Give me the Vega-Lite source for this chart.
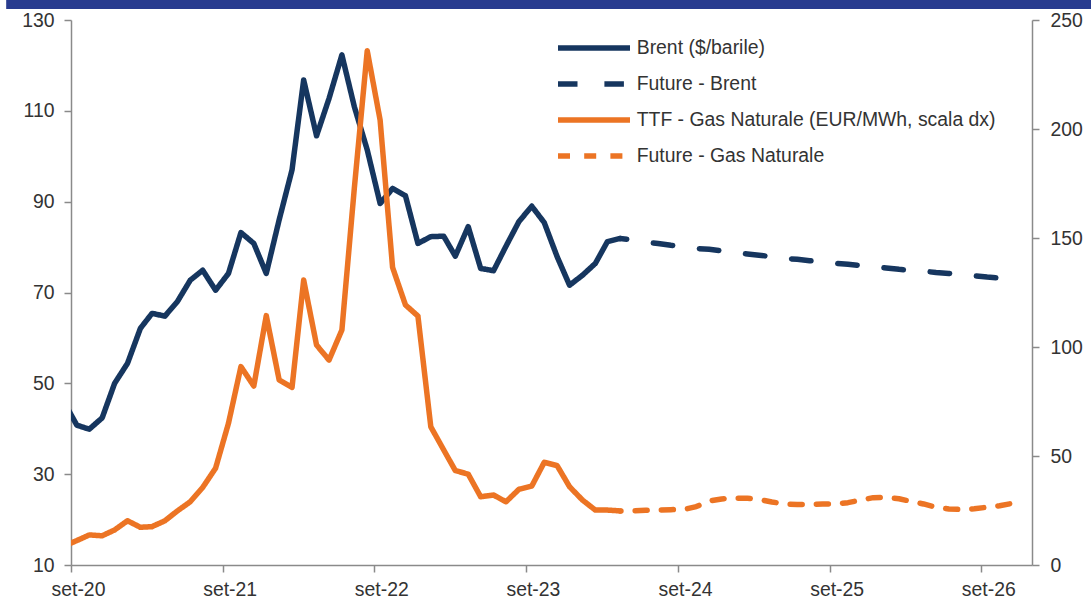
{
  "$schema": "https://vega.github.io/schema/vega-lite/v6.json",
  "width": 961,
  "height": 545,
  "autosize": "none",
  "padding": {"left": 71, "top": 20, "right": 59, "bottom": 49},
  "background": "white",
  "datasets": {
    "brent": [
      {"d": "2020-08-15", "s": "Brent ($/barile)", "v": 45.9},
      {"d": "2020-09-15", "s": "Brent ($/barile)", "v": 40.8},
      {"d": "2020-10-15", "s": "Brent ($/barile)", "v": 39.9},
      {"d": "2020-11-15", "s": "Brent ($/barile)", "v": 42.4},
      {"d": "2020-12-15", "s": "Brent ($/barile)", "v": 50.0},
      {"d": "2021-01-15", "s": "Brent ($/barile)", "v": 54.4},
      {"d": "2021-02-15", "s": "Brent ($/barile)", "v": 62.1},
      {"d": "2021-03-15", "s": "Brent ($/barile)", "v": 65.4},
      {"d": "2021-04-15", "s": "Brent ($/barile)", "v": 64.8},
      {"d": "2021-05-15", "s": "Brent ($/barile)", "v": 68.0},
      {"d": "2021-06-15", "s": "Brent ($/barile)", "v": 72.7},
      {"d": "2021-07-15", "s": "Brent ($/barile)", "v": 74.9},
      {"d": "2021-08-15", "s": "Brent ($/barile)", "v": 70.5},
      {"d": "2021-09-15", "s": "Brent ($/barile)", "v": 74.2},
      {"d": "2021-10-15", "s": "Brent ($/barile)", "v": 83.2},
      {"d": "2021-11-15", "s": "Brent ($/barile)", "v": 80.8},
      {"d": "2021-12-15", "s": "Brent ($/barile)", "v": 74.2},
      {"d": "2022-01-15", "s": "Brent ($/barile)", "v": 86.0},
      {"d": "2022-02-15", "s": "Brent ($/barile)", "v": 97.0},
      {"d": "2022-03-15", "s": "Brent ($/barile)", "v": 116.8},
      {"d": "2022-04-15", "s": "Brent ($/barile)", "v": 104.5},
      {"d": "2022-05-15", "s": "Brent ($/barile)", "v": 112.7},
      {"d": "2022-06-15", "s": "Brent ($/barile)", "v": 122.3},
      {"d": "2022-07-15", "s": "Brent ($/barile)", "v": 110.9},
      {"d": "2022-08-15", "s": "Brent ($/barile)", "v": 101.4},
      {"d": "2022-09-15", "s": "Brent ($/barile)", "v": 89.6},
      {"d": "2022-10-15", "s": "Brent ($/barile)", "v": 92.9},
      {"d": "2022-11-15", "s": "Brent ($/barile)", "v": 91.3},
      {"d": "2022-12-15", "s": "Brent ($/barile)", "v": 80.8},
      {"d": "2023-01-15", "s": "Brent ($/barile)", "v": 82.3},
      {"d": "2023-02-15", "s": "Brent ($/barile)", "v": 82.4},
      {"d": "2023-03-15", "s": "Brent ($/barile)", "v": 78.0},
      {"d": "2023-04-15", "s": "Brent ($/barile)", "v": 84.5},
      {"d": "2023-05-15", "s": "Brent ($/barile)", "v": 75.3},
      {"d": "2023-06-15", "s": "Brent ($/barile)", "v": 74.8},
      {"d": "2023-07-15", "s": "Brent ($/barile)", "v": 80.2},
      {"d": "2023-08-15", "s": "Brent ($/barile)", "v": 85.6},
      {"d": "2023-09-15", "s": "Brent ($/barile)", "v": 89.0},
      {"d": "2023-10-15", "s": "Brent ($/barile)", "v": 85.4},
      {"d": "2023-11-15", "s": "Brent ($/barile)", "v": 77.9},
      {"d": "2023-12-15", "s": "Brent ($/barile)", "v": 71.6},
      {"d": "2024-01-15", "s": "Brent ($/barile)", "v": 73.8},
      {"d": "2024-02-15", "s": "Brent ($/barile)", "v": 76.4},
      {"d": "2024-03-15", "s": "Brent ($/barile)", "v": 81.2},
      {"d": "2024-04-15", "s": "Brent ($/barile)", "v": 81.9},
      {"d": "2024-04-15", "s": "Future - Brent", "v": 81.9},
      {"d": "2024-05-15", "s": "Future - Brent", "v": 81.6},
      {"d": "2024-06-15", "s": "Future - Brent", "v": 81.1},
      {"d": "2024-07-15", "s": "Future - Brent", "v": 80.8},
      {"d": "2024-08-15", "s": "Future - Brent", "v": 80.4},
      {"d": "2024-09-15", "s": "Future - Brent", "v": 80.1},
      {"d": "2024-10-15", "s": "Future - Brent", "v": 79.7},
      {"d": "2024-11-15", "s": "Future - Brent", "v": 79.5},
      {"d": "2024-12-15", "s": "Future - Brent", "v": 79.2},
      {"d": "2025-01-15", "s": "Future - Brent", "v": 78.8},
      {"d": "2025-02-15", "s": "Future - Brent", "v": 78.5},
      {"d": "2025-03-15", "s": "Future - Brent", "v": 78.2},
      {"d": "2025-04-15", "s": "Future - Brent", "v": 77.9},
      {"d": "2025-05-15", "s": "Future - Brent", "v": 77.5},
      {"d": "2025-06-15", "s": "Future - Brent", "v": 77.3},
      {"d": "2025-07-15", "s": "Future - Brent", "v": 77.0},
      {"d": "2025-08-15", "s": "Future - Brent", "v": 76.7},
      {"d": "2025-09-15", "s": "Future - Brent", "v": 76.4},
      {"d": "2025-10-15", "s": "Future - Brent", "v": 76.2},
      {"d": "2025-11-15", "s": "Future - Brent", "v": 75.9},
      {"d": "2025-12-15", "s": "Future - Brent", "v": 75.7},
      {"d": "2026-01-15", "s": "Future - Brent", "v": 75.4},
      {"d": "2026-02-15", "s": "Future - Brent", "v": 75.1},
      {"d": "2026-03-15", "s": "Future - Brent", "v": 74.9},
      {"d": "2026-04-15", "s": "Future - Brent", "v": 74.7},
      {"d": "2026-05-15", "s": "Future - Brent", "v": 74.4},
      {"d": "2026-06-15", "s": "Future - Brent", "v": 74.2},
      {"d": "2026-07-15", "s": "Future - Brent", "v": 73.9},
      {"d": "2026-08-15", "s": "Future - Brent", "v": 73.7},
      {"d": "2026-09-15", "s": "Future - Brent", "v": 73.4},
      {"d": "2026-10-15", "s": "Future - Brent", "v": 73.2},
      {"d": "2026-11-15", "s": "Future - Brent", "v": 73.0}
    ],
    "gas": [
      {"d": "2020-08-15", "s": "TTF - Gas Naturale (EUR/MWh, scala dx)", "v": 8.7},
      {"d": "2020-09-15", "s": "TTF - Gas Naturale (EUR/MWh, scala dx)", "v": 11.2},
      {"d": "2020-10-15", "s": "TTF - Gas Naturale (EUR/MWh, scala dx)", "v": 13.8},
      {"d": "2020-11-15", "s": "TTF - Gas Naturale (EUR/MWh, scala dx)", "v": 13.4},
      {"d": "2020-12-15", "s": "TTF - Gas Naturale (EUR/MWh, scala dx)", "v": 16.1},
      {"d": "2021-01-15", "s": "TTF - Gas Naturale (EUR/MWh, scala dx)", "v": 20.3},
      {"d": "2021-02-15", "s": "TTF - Gas Naturale (EUR/MWh, scala dx)", "v": 17.3},
      {"d": "2021-03-15", "s": "TTF - Gas Naturale (EUR/MWh, scala dx)", "v": 17.6},
      {"d": "2021-04-15", "s": "TTF - Gas Naturale (EUR/MWh, scala dx)", "v": 20.3},
      {"d": "2021-05-15", "s": "TTF - Gas Naturale (EUR/MWh, scala dx)", "v": 24.8},
      {"d": "2021-06-15", "s": "TTF - Gas Naturale (EUR/MWh, scala dx)", "v": 29.0},
      {"d": "2021-07-15", "s": "TTF - Gas Naturale (EUR/MWh, scala dx)", "v": 35.6},
      {"d": "2021-08-15", "s": "TTF - Gas Naturale (EUR/MWh, scala dx)", "v": 44.4},
      {"d": "2021-09-15", "s": "TTF - Gas Naturale (EUR/MWh, scala dx)", "v": 65.0},
      {"d": "2021-10-15", "s": "TTF - Gas Naturale (EUR/MWh, scala dx)", "v": 91.0},
      {"d": "2021-11-15", "s": "TTF - Gas Naturale (EUR/MWh, scala dx)", "v": 82.1},
      {"d": "2021-12-15", "s": "TTF - Gas Naturale (EUR/MWh, scala dx)", "v": 114.4},
      {"d": "2022-01-15", "s": "TTF - Gas Naturale (EUR/MWh, scala dx)", "v": 84.9},
      {"d": "2022-02-15", "s": "TTF - Gas Naturale (EUR/MWh, scala dx)", "v": 81.5},
      {"d": "2022-03-15", "s": "TTF - Gas Naturale (EUR/MWh, scala dx)", "v": 130.7},
      {"d": "2022-04-15", "s": "TTF - Gas Naturale (EUR/MWh, scala dx)", "v": 100.9},
      {"d": "2022-05-15", "s": "TTF - Gas Naturale (EUR/MWh, scala dx)", "v": 94.0},
      {"d": "2022-06-15", "s": "TTF - Gas Naturale (EUR/MWh, scala dx)", "v": 107.8},
      {"d": "2022-07-15", "s": "TTF - Gas Naturale (EUR/MWh, scala dx)", "v": 173.0},
      {"d": "2022-08-15", "s": "TTF - Gas Naturale (EUR/MWh, scala dx)", "v": 235.9},
      {"d": "2022-09-15", "s": "TTF - Gas Naturale (EUR/MWh, scala dx)", "v": 204.1},
      {"d": "2022-10-15", "s": "TTF - Gas Naturale (EUR/MWh, scala dx)", "v": 136.5},
      {"d": "2022-11-15", "s": "TTF - Gas Naturale (EUR/MWh, scala dx)", "v": 119.3},
      {"d": "2022-12-15", "s": "TTF - Gas Naturale (EUR/MWh, scala dx)", "v": 114.2},
      {"d": "2023-01-15", "s": "TTF - Gas Naturale (EUR/MWh, scala dx)", "v": 63.4},
      {"d": "2023-02-15", "s": "TTF - Gas Naturale (EUR/MWh, scala dx)", "v": 52.8},
      {"d": "2023-03-15", "s": "TTF - Gas Naturale (EUR/MWh, scala dx)", "v": 43.3},
      {"d": "2023-04-15", "s": "TTF - Gas Naturale (EUR/MWh, scala dx)", "v": 41.7},
      {"d": "2023-05-15", "s": "TTF - Gas Naturale (EUR/MWh, scala dx)", "v": 31.3},
      {"d": "2023-06-15", "s": "TTF - Gas Naturale (EUR/MWh, scala dx)", "v": 32.1},
      {"d": "2023-07-15", "s": "TTF - Gas Naturale (EUR/MWh, scala dx)", "v": 29.0},
      {"d": "2023-08-15", "s": "TTF - Gas Naturale (EUR/MWh, scala dx)", "v": 34.7},
      {"d": "2023-09-15", "s": "TTF - Gas Naturale (EUR/MWh, scala dx)", "v": 36.2},
      {"d": "2023-10-15", "s": "TTF - Gas Naturale (EUR/MWh, scala dx)", "v": 47.1},
      {"d": "2023-11-15", "s": "TTF - Gas Naturale (EUR/MWh, scala dx)", "v": 45.6},
      {"d": "2023-12-15", "s": "TTF - Gas Naturale (EUR/MWh, scala dx)", "v": 35.9},
      {"d": "2024-01-15", "s": "TTF - Gas Naturale (EUR/MWh, scala dx)", "v": 29.8},
      {"d": "2024-02-15", "s": "TTF - Gas Naturale (EUR/MWh, scala dx)", "v": 25.2},
      {"d": "2024-03-15", "s": "TTF - Gas Naturale (EUR/MWh, scala dx)", "v": 25.2},
      {"d": "2024-04-15", "s": "TTF - Gas Naturale (EUR/MWh, scala dx)", "v": 24.8},
      {"d": "2024-04-15", "s": "Future - Gas Naturale", "v": 24.8},
      {"d": "2024-05-15", "s": "Future - Gas Naturale", "v": 24.9},
      {"d": "2024-06-15", "s": "Future - Gas Naturale", "v": 25.1},
      {"d": "2024-07-15", "s": "Future - Gas Naturale", "v": 25.2},
      {"d": "2024-08-15", "s": "Future - Gas Naturale", "v": 25.4},
      {"d": "2024-09-15", "s": "Future - Gas Naturale", "v": 25.5},
      {"d": "2024-10-15", "s": "Future - Gas Naturale", "v": 26.8},
      {"d": "2024-11-15", "s": "Future - Gas Naturale", "v": 29.4},
      {"d": "2024-12-15", "s": "Future - Gas Naturale", "v": 30.3},
      {"d": "2025-01-15", "s": "Future - Gas Naturale", "v": 30.7},
      {"d": "2025-02-15", "s": "Future - Gas Naturale", "v": 30.6},
      {"d": "2025-03-15", "s": "Future - Gas Naturale", "v": 30.1},
      {"d": "2025-04-15", "s": "Future - Gas Naturale", "v": 28.9},
      {"d": "2025-05-15", "s": "Future - Gas Naturale", "v": 28.0},
      {"d": "2025-06-15", "s": "Future - Gas Naturale", "v": 27.8},
      {"d": "2025-07-15", "s": "Future - Gas Naturale", "v": 27.8},
      {"d": "2025-08-15", "s": "Future - Gas Naturale", "v": 28.0},
      {"d": "2025-09-15", "s": "Future - Gas Naturale", "v": 28.0},
      {"d": "2025-10-15", "s": "Future - Gas Naturale", "v": 28.6},
      {"d": "2025-11-15", "s": "Future - Gas Naturale", "v": 29.8},
      {"d": "2025-12-15", "s": "Future - Gas Naturale", "v": 30.9},
      {"d": "2026-01-15", "s": "Future - Gas Naturale", "v": 31.0},
      {"d": "2026-02-15", "s": "Future - Gas Naturale", "v": 30.4},
      {"d": "2026-03-15", "s": "Future - Gas Naturale", "v": 29.2},
      {"d": "2026-04-15", "s": "Future - Gas Naturale", "v": 28.0},
      {"d": "2026-05-15", "s": "Future - Gas Naturale", "v": 26.5},
      {"d": "2026-06-15", "s": "Future - Gas Naturale", "v": 25.7},
      {"d": "2026-07-15", "s": "Future - Gas Naturale", "v": 25.5},
      {"d": "2026-08-15", "s": "Future - Gas Naturale", "v": 25.8},
      {"d": "2026-09-15", "s": "Future - Gas Naturale", "v": 26.5},
      {"d": "2026-10-15", "s": "Future - Gas Naturale", "v": 27.2},
      {"d": "2026-11-15", "s": "Future - Gas Naturale", "v": 28.3}
    ]
  },
  "config": {
    "view": {"stroke": null},
    "font": "Liberation Sans",
    "axis": {
      "grid": false,
      "title": null,
      "domainColor": "#8a8a8a",
      "domainWidth": 1.5,
      "tickColor": "#8a8a8a",
      "tickWidth": 1.5,
      "tickSize": 7,
      "labelFont": "Liberation Sans",
      "labelFontSize": 19.4,
      "labelColor": "#333333"
    },
    "legend": {
      "title": null,
      "symbolType": "M-3,0H3",
      "symbolSize": 576,
      "symbolStrokeWidth": 5.5,
      "labelFont": "Liberation Sans",
      "labelFontSize": 19.4,
      "labelColor": "#333333",
      "labelLimit": 600,
      "labelOffset": 27.7,
      "rowPadding": 10
    }
  },
  "layer": [
    {
      "layer": [
        {
          "data": {"name": "brent"},
          "mark": {"type": "line", "strokeWidth": 5.5, "strokeCap": "round", "strokeJoin": "round", "clip": true, "strokeDashOffset": 13},
          "encoding": {
            "x": {
              "field": "d", "type": "temporal",
              "scale": {"type": "utc", "domain": [{"year": 2020, "month": 9, "date": 1, "utc": true}, {"year": 2027, "month": 1, "date": 1, "utc": true}]},
              "axis": {
                "values": [
                  {"year": 2020, "month": 9, "date": 1, "utc": true},
                  {"year": 2021, "month": 9, "date": 1, "utc": true},
                  {"year": 2022, "month": 9, "date": 1, "utc": true},
                  {"year": 2023, "month": 9, "date": 1, "utc": true},
                  {"year": 2024, "month": 9, "date": 1, "utc": true},
                  {"year": 2025, "month": 9, "date": 1, "utc": true},
                  {"year": 2026, "month": 9, "date": 1, "utc": true}
                ],
                "labelExpr": "'set-' + utcFormat(datum.value, '%y')",
                "labelOffset": 7,
                "labelPadding": 8,
                "labelFlush": false,
                "labelOverlap": false
              }
            },
            "y": {
              "field": "v", "type": "quantitative",
              "scale": {"domain": [10, 130], "nice": false, "zero": false},
              "axis": {"orient": "left", "values": [10, 30, 50, 70, 90, 110, 130], "labelPadding": 10}
            },
            "color": {
              "field": "s", "type": "nominal",
              "scale": {"domain": ["Brent ($/barile)", "Future - Brent", "TTF - Gas Naturale (EUR/MWh, scala dx)", "Future - Gas Naturale"], "range": ["#16365f", "#16365f", "#ec7424", "#ec7424"]},
              "legend": {"orient": "none", "legendX": 508, "legendY": 13}
            },
            "strokeDash": {
              "field": "s", "type": "nominal",
              "scale": {"domain": ["Brent ($/barile)", "Future - Brent", "TTF - Gas Naturale (EUR/MWh, scala dx)", "Future - Gas Naturale"], "range": [[1, 0], [19.5, 26.9], [1, 0], [12, 14.2]]},
              "legend": {"orient": "none", "legendX": 508, "legendY": 13}
            }
          }
        },
        {
          "data": {"values": [{}]},
          "mark": {"type": "rect", "color": "#283b8f"},
          "encoding": {
            "x": {"datum": {"year": 2020, "month": 3, "date": 29, "utc": true}, "type": "temporal"},
            "x2": {"datum": {"year": 2027, "month": 7, "date": 30, "utc": true}},
            "y": {"datum": 132.4, "type": "quantitative"},
            "y2": {"datum": 137}
          }
        }
      ]
    },
    {
      "data": {"name": "gas"},
      "mark": {"type": "line", "strokeWidth": 5.5, "strokeCap": "round", "strokeJoin": "round", "clip": true, "strokeDashOffset": 11.3},
      "encoding": {
        "x": {
          "field": "d", "type": "temporal",
          "axis": {
            "values": [
              {"year": 2020, "month": 9, "date": 1, "utc": true},
              {"year": 2021, "month": 9, "date": 1, "utc": true},
              {"year": 2022, "month": 9, "date": 1, "utc": true},
              {"year": 2023, "month": 9, "date": 1, "utc": true},
              {"year": 2024, "month": 9, "date": 1, "utc": true},
              {"year": 2025, "month": 9, "date": 1, "utc": true},
              {"year": 2026, "month": 9, "date": 1, "utc": true}
            ],
            "labelExpr": "'set-' + utcFormat(datum.value, '%y')",
            "labelOffset": 7,
            "labelPadding": 8,
            "labelFlush": false,
            "labelOverlap": false
          }
        },
        "y": {
          "field": "v", "type": "quantitative",
          "scale": {"domain": [0, 250], "nice": false},
          "axis": {"orient": "right", "values": [0, 50, 100, 150, 200, 250], "labelPadding": 11}
        },
        "color": {
          "field": "s", "type": "nominal",
          "scale": {"domain": ["Brent ($/barile)", "Future - Brent", "TTF - Gas Naturale (EUR/MWh, scala dx)", "Future - Gas Naturale"], "range": ["#16365f", "#16365f", "#ec7424", "#ec7424"]},
          "legend": {"orient": "none", "legendX": 508, "legendY": 13}
        },
        "strokeDash": {
          "field": "s", "type": "nominal",
          "scale": {"domain": ["Brent ($/barile)", "Future - Brent", "TTF - Gas Naturale (EUR/MWh, scala dx)", "Future - Gas Naturale"], "range": [[1, 0], [19.5, 26.9], [1, 0], [12, 14.2]]},
          "legend": {"orient": "none", "legendX": 508, "legendY": 13}
        }
      }
    }
  ],
  "resolve": {"scale": {"y": "independent"}, "axis": {"y": "independent"}}
}
